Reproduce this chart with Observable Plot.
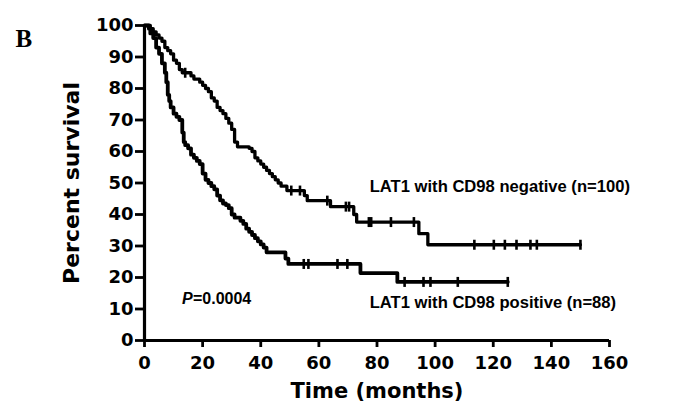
<!DOCTYPE html>
<html>
<head>
<meta charset="utf-8">
<script src="https://cdn.jsdelivr.net/npm/d3@7"></script>
<script src="https://cdn.jsdelivr.net/npm/@observablehq/plot@0.6"></script>
<style>
  html, body { margin: 0; padding: 0; background: #fff; }
</style>
</head>
<body>
<div id="chart"></div>
<script>
// ---- Data ----
// LAT1 with CD98 negative (n=100): step times (months) and survival (%)
const negTime = [0, 2, 3, 4, 5, 6, 7, 8, 9, 10, 11, 12, 13, 16, 17, 19, 20, 21, 22, 23, 24, 25, 26, 27, 28, 29, 30, 31, 32, 36, 37, 38, 39, 40, 41, 42, 43, 44, 45, 46, 47, 49, 55, 56, 64, 72, 73, 94.4, 97.5, 150];
const negSurv = [100, 99, 98, 97, 96, 95, 93, 92, 91, 89, 88, 86, 85, 84, 83, 82, 81, 80, 79, 77, 76, 74, 73, 72, 70.5, 69, 67, 63, 61.5, 61, 60, 58, 57, 56, 55, 54, 53, 52, 51, 50, 49, 47.6, 46, 44.4, 42.5, 40, 37.6, 33.9, 30.4, 30.4];
const negCensor = [14, 50.5, 53.5, 62.9, 69.3, 70.4, 77.2, 78, 84.8, 92.7, 113.5, 120.2, 124, 128, 132.8, 135, 150];

// LAT1 with CD98 positive (n=88)
const posTime = [0, 1.5, 2, 3, 4, 5, 6, 7, 7.5, 8, 8.5, 9, 10, 11, 12, 13, 13.5, 14, 15, 16, 17, 18, 19, 20, 21, 22, 23, 24, 25, 26, 27, 28, 29, 30, 31, 33, 34, 35, 36, 37, 38, 39, 40, 41, 42, 48.5, 49.5, 74.3, 87, 125];
const posSurv = [100, 99, 97.5, 96, 93, 91, 88, 85, 82, 78, 76, 74, 72, 71, 70, 66, 63, 62, 61, 59, 58, 57, 56, 53, 51, 50, 49, 48, 46, 44.5, 43.5, 43, 42, 40, 39, 38, 37, 35.5, 34.5, 33.5, 32.5, 31.5, 30.5, 29.5, 28, 26, 24.3, 21.4, 18.6, 18.6];
const posCensor = [54.8, 56.4, 66.4, 69.8, 89.5, 96, 98.4, 107.8, 125];

const xTicks = [0, 20, 40, 60, 80, 100, 120, 140, 160];
const yTicks = [0, 10, 20, 30, 40, 50, 60, 70, 80, 90, 100];

const negLabel = "LAT1 with CD98 negative (n=100)";
const posLabel = "LAT1 with CD98 positive (n=88)";
const pLabel = "=0.0004";

// ---- Build tables ----
const toRows = (t, s) => t.map((d, i) => ({time: d, surv: s[i]}));
const survAt = (t, s, x) => { let v = s[0]; for (let i = 0; i < t.length; i++) { if (t[i] <= x) v = s[i]; } return v; };
const negRows = toRows(negTime, negSurv);
const posRows = toRows(posTime, posSurv);
const negCens = negCensor.map(x => ({time: x, surv: survAt(negTime, negSurv, x)}));
const posCens = posCensor.map(x => ({time: x, surv: survAt(posTime, posSurv, x)}));

const censorSymbol = {
  draw(context, size) {
    const h = Math.sqrt(size / Math.PI);
    context.moveTo(0, -h);
    context.lineTo(0, h);
  }
};

const font = "'Liberation Sans', Arial, Helvetica, sans-serif";
const heavy = "'DejaVu Sans', 'Liberation Sans', sans-serif";

const chart = Plot.plot({
  width: 688,
  height: 415,
  marginLeft: 144,
  marginRight: 79,
  marginTop: 25,
  marginBottom: 75,
  style: {fontFamily: font, fontWeight: "bold", background: "#fff", color: "#000"},
  x: {domain: [0, 160]},
  y: {domain: [0, 100]},
  marks: [
    Plot.axisX({ticks: xTicks, tickSize: 7, tickPadding: 9, strokeWidth: 2.8, fontSize: 18, fontWeight: "bold", fontFamily: heavy, label: null, tickFormat: d => String(d)}),
    Plot.axisY({ticks: yTicks, tickSize: 9, tickPadding: 2, strokeWidth: 2.8, fontSize: 18, fontWeight: "bold", fontFamily: heavy, label: null, tickFormat: d => String(d)}),
    Plot.ruleY([0], {strokeWidth: 3.2}),
    Plot.ruleX([0], {strokeWidth: 3.2}),
    Plot.line(negRows, {x: "time", y: "surv", curve: "step-after", strokeWidth: 3.3, stroke: "#000"}),
    Plot.line(posRows, {x: "time", y: "surv", curve: "step-after", strokeWidth: 3.8, stroke: "#000"}),
    Plot.dot(negCens, {x: "time", y: "surv", symbol: censorSymbol, r: 5, fill: "none", stroke: "#000", strokeWidth: 2.6}),
    Plot.dot(posCens, {x: "time", y: "surv", symbol: censorSymbol, r: 5, fill: "none", stroke: "#000", strokeWidth: 2.6}),
    Plot.text([negLabel], {x: 77.5, y: 48.9, text: d => d, textAnchor: "start", fontSize: 16.6, fontWeight: "bold"}),
    Plot.text([posLabel], {x: 77.5, y: 11.9, text: d => d, textAnchor: "start", fontSize: 16.6, fontWeight: "bold"}),
    Plot.text(["P"], {x: 12.9, y: 13.1, text: d => d, textAnchor: "start", fontSize: 16, fontWeight: "bold", fontStyle: "italic"}),
    Plot.text([pLabel], {x: 12.9, y: 13.1, dx: 11, text: d => d, textAnchor: "start", fontSize: 16, fontWeight: "bold"}),
    Plot.text(["Percent survival"], {frameAnchor: "left", dx: -73, rotate: -90, textAnchor: "middle", text: d => d, fontSize: 22, fontWeight: "bold", fontFamily: heavy}),
    Plot.text(["Time (months)"], {frameAnchor: "bottom", dy: 57, textAnchor: "middle", text: d => d, fontSize: 21, fontWeight: "bold", fontFamily: heavy}),
    Plot.text(["B"], {frameAnchor: "top-left", dx: -129, dy: 4, text: d => d, textAnchor: "start", fontSize: 25, fontWeight: "bold", fontFamily: "'Liberation Serif', 'Times New Roman', serif"})
  ]
});
document.getElementById("chart").appendChild(chart);
</script>
</body>
</html>
